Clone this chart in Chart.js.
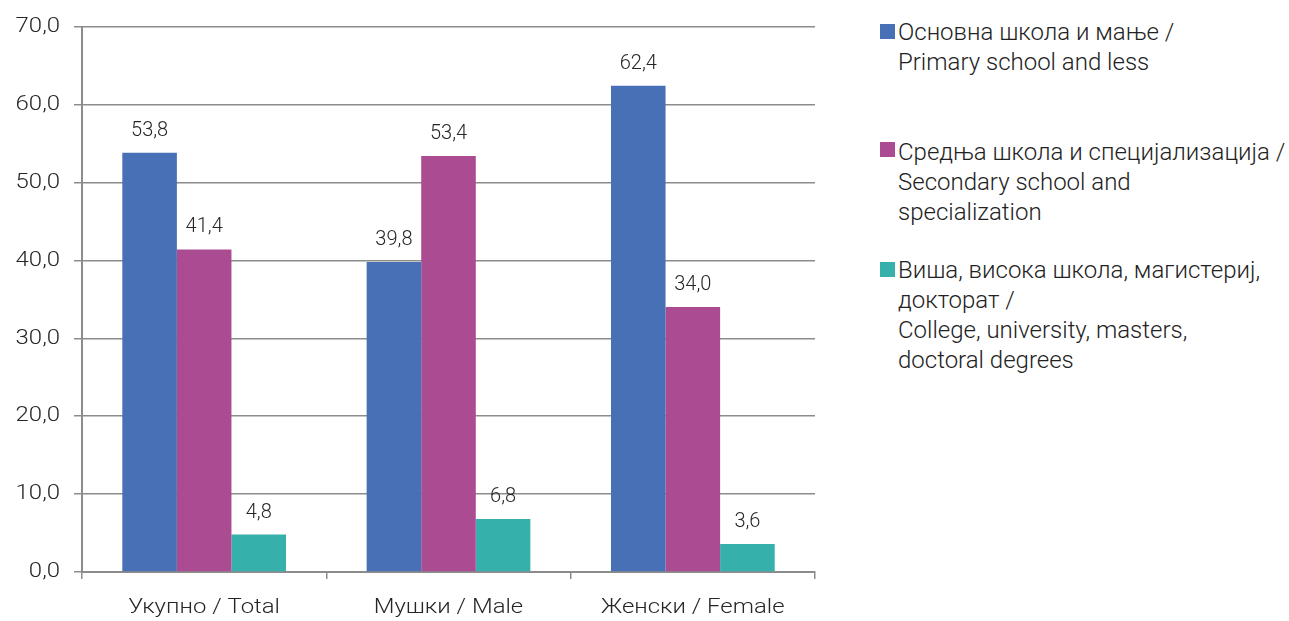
<!DOCTYPE html>
<html>
<head>
<meta charset="utf-8">
<script src="https://cdn.jsdelivr.net/npm/chart.js@4"></script>
<style>
  html, body { margin: 0; padding: 0; background: #fff; }
  body { width: 1289px; height: 621px; position: relative; overflow: hidden; font-family: Roboto, "Noto Sans", sans-serif; font-weight: 300; color: #222; }
  #wrap { position: absolute; left: 0; top: 0; width: 830px; height: 621px; }
  #legend { position: absolute; left: 880px; top: 17px; font-size: 24px; line-height: 30px; }
  .item { position: absolute; left: 0; padding-left: 18px; white-space: nowrap; }
  .item .box { position: absolute; left: 0; width: 15px; height: 15px; }
  .item span { display: block; }
</style>
</head>
<body>
<div id="wrap"><canvas id="chart"></canvas></div>
<div id="legend"></div>
<script>
    'use strict';

    // Chart data
    var categories = ['Укупно / Total', 'Мушки / Male', 'Женски / Female'];
    var primaryValues = [53.8, 39.8, 62.4];
    var secondaryValues = [41.4, 53.4, 34.0];
    var higherValues = [4.8, 6.8, 3.6];
    var yTicks = [0, 10, 20, 30, 40, 50, 60, 70];

    var seriesNames = [
        ['Основна школа и мање /', 'Primary school and less'],
        ['Средња школа и специјализација /', 'Secondary school and', 'specialization'],
        ['Виша, висока школа, магистериј,', 'докторат /', 'College, university, masters,', 'doctoral degrees']
    ];
    var seriesColors = ['#4770b6', '#ab4b91', '#35b0aa'];
    var legendTops = [0, 120, 238];
    var legendBoxTops = [7, 5, 7];

    var gridColor = '#8c8c8c';
    var textColor = '#262626';
    var axisStretch = 1.14; // axis text in the source is a little wider than normal

    function formatValue(v) {
        return v.toFixed(1).replace('.', ',');
    }

    var canvas = document.getElementById('chart');
    var ctx = canvas.getContext('2d');
    var plainFillText = CanvasRenderingContext2D.prototype.fillText;

    // Axis labels are drawn horizontally stretched around their anchor point
    ctx.fillText = function(text, x, y) {
        this.save();
        this.translate(x, y);
        this.scale(axisStretch, 1);
        plainFillText.call(this, text, 0, 0);
        this.restore();
    };

    /**
     * Draw value labels above bars
     */
    var valueLabels = {
        id: 'valueLabels',
        afterDatasetsDraw: function(chart) {
            var c = chart.ctx;
            c.save();
            c.font = '300 20px Roboto, "Noto Sans", sans-serif';
            c.fillStyle = textColor;
            c.textAlign = 'center';
            c.textBaseline = 'alphabetic';
            chart.data.datasets.forEach(function(ds, i) {
                var meta = chart.getDatasetMeta(i);
                meta.data.forEach(function(bar, j) {
                    plainFillText.call(c, formatValue(ds.data[j]), bar.x, bar.y - 17);
                });
            });
            c.restore();
        }
    };

    var datasets = [primaryValues, secondaryValues, higherValues].map(function(vals, i) {
        return {
            label: seriesNames[i].join(' '),
            data: vals,
            backgroundColor: seriesColors[i],
            borderWidth: 0,
            categoryPercentage: 0.67,
            barPercentage: 1.0
        };
    });

    new Chart(ctx, {
        type: 'bar',
        data: { labels: categories, datasets: datasets },
        plugins: [valueLabels],
        options: {
            responsive: true,
            maintainAspectRatio: false,
            animation: false,
            layout: { padding: { top: 14, right: 15, left: 0, bottom: 0 } },
            plugins: {
                legend: { display: false },
                tooltip: { enabled: false }
            },
            scales: {
                x: {
                    grid: {
                        display: true,
                        offset: true,
                        drawOnChartArea: false,
                        drawTicks: true,
                        tickLength: 7,
                        color: gridColor,
                        lineWidth: 1.5
                    },
                    border: { color: gridColor, width: 2 },
                    ticks: {
                        color: textColor,
                        padding: 16,
                        font: { family: 'Roboto', size: 21, weight: 300 }
                    },
                    afterFit: function(scale) { scale.height = 49; }
                },
                y: {
                    min: 0,
                    max: 70,
                    afterBuildTicks: function(scale) {
                        scale.ticks = yTicks.map(function(v) { return { value: v }; });
                    },
                    grid: {
                        color: gridColor,
                        lineWidth: 1.5,
                        tickLength: 8
                    },
                    border: { color: gridColor, width: 2 },
                    ticks: {
                        color: textColor,
                        padding: 14,
                        font: { family: 'Roboto', size: 21, weight: 300 },
                        callback: function(v) { return formatValue(v); }
                    },
                    afterFit: function(scale) { scale.width = 82; }
                }
            }
        }
    });

    // HTML legend with multi-line labels
    var legend = document.getElementById('legend');
    seriesNames.forEach(function(lines, i) {
        var item = document.createElement('div');
        item.className = 'item';
        item.style.top = legendTops[i] + 'px';
        var box = document.createElement('div');
        box.className = 'box';
        box.style.top = legendBoxTops[i] + 'px';
        box.style.background = seriesColors[i];
        item.appendChild(box);
        lines.forEach(function(line) {
            var s = document.createElement('span');
            s.textContent = line;
            item.appendChild(s);
        });
        legend.appendChild(item);
    });
</script>
</body>
</html>
